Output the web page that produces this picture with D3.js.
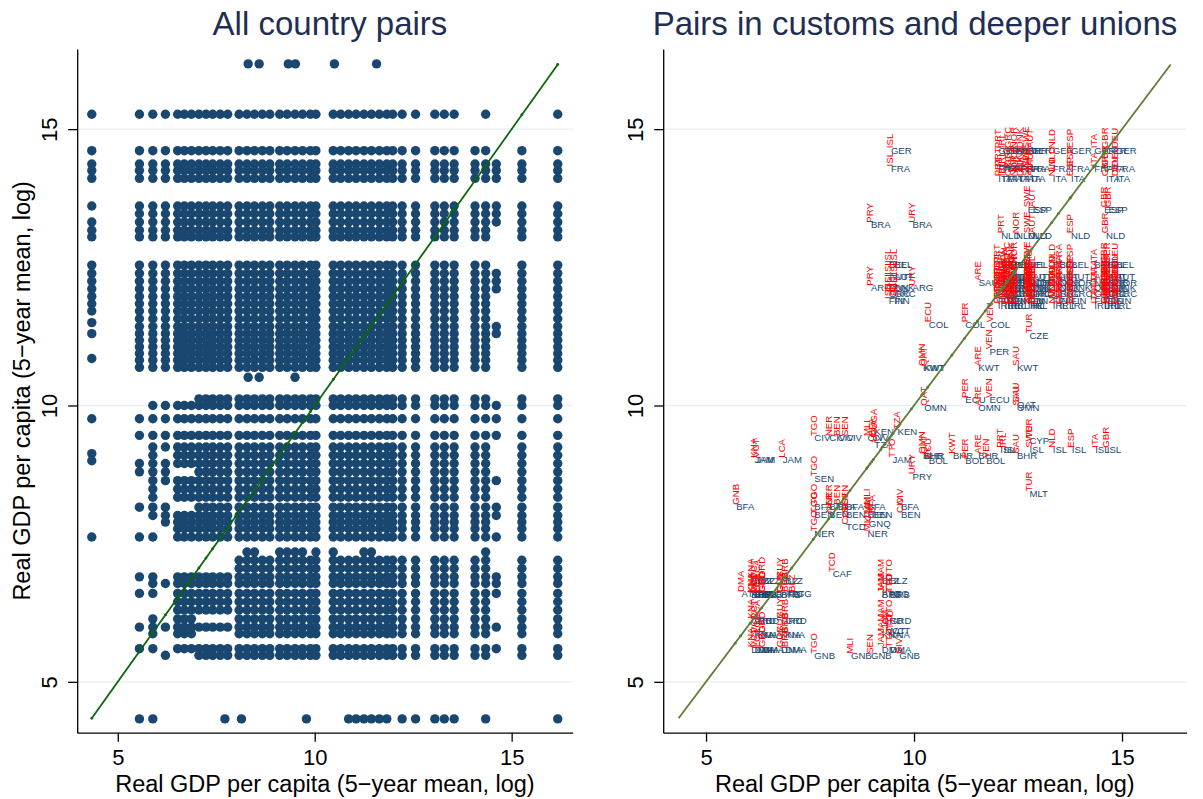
<!DOCTYPE html>
<html>
<head>
<meta charset="utf-8">
<title>Real GDP per capita pairs</title>
<script src="https://cdn.jsdelivr.net/npm/d3@7/dist/d3.min.js"></script>
<style>
  body { margin: 0; background: #fff; }
  svg text { font-family: "Liberation Sans", Arial, Helvetica, sans-serif; }
</style>
</head>
<body>
<div id="chart"></div>
<script>
// ---------- left panel: all country pairs ----------
// columns (x levels) that run through the whole upper block
var coreX = [5.55, 5.89, 6.21, 6.52, 6.69, 6.87, 7.06, 7.24, 7.41, 7.60, 7.79,
  8.08, 8.28, 8.47, 8.67, 8.86, 9.11, 9.30, 9.50, 9.69, 9.89, 10.03,
  10.47, 10.66, 10.86, 11.05, 11.25, 11.44, 11.64, 11.83, 11.98, 12.22, 12.56,
  13.05, 13.29, 13.54, 14.07, 14.34, 15.26, 16.17];
// rows above 10.5
var upperY = [14.61, 14.37, 14.25, 14.11, 13.61, 13.47, 13.32, 13.17, 13.05, 12.54,
  12.39, 12.25, 12.11, 11.97, 11.84, 11.71, 11.57, 11.43, 11.30, 11.18, 11.06,
  10.94, 10.82, 10.69];
// rows below 10.5 (full set)
var lowerY = [10.12, 10.00, 9.76, 9.46, 9.25, 9.10, 8.95, 8.80, 8.64, 8.49, 8.34,
  8.16, 8.01, 7.89, 7.77, 7.62, 7.20, 7.05, 6.90, 6.78, 6.60, 6.45, 6.30, 6.14,
  5.99, 5.87, 5.60, 5.48];
// thinner lower rows of the poorest columns
var low555 = [9.76, 9.46, 8.95, 8.80, 8.16, 7.62, 6.90, 6.60, 5.99, 5.60];
var low589 = [10.00, 9.76, 9.46, 9.25, 9.10, 8.95, 8.80, 8.64, 8.49, 8.34, 8.16, 8.01,
  7.62, 6.90, 6.78, 6.60, 6.14, 5.99, 5.87, 5.60];
var low621 = [10.00, 9.76, 9.46, 9.25, 8.95, 8.80, 8.64, 8.16, 8.01, 7.89, 6.78, 5.99, 5.48];
var low652 = [10.00, 9.76, 9.46, 9.25, 9.10, 8.95, 8.64, 8.49, 8.34, 8.01, 7.89, 7.77,
  7.62, 6.90, 6.78, 6.60, 6.45, 6.30, 6.14, 5.99, 5.87, 5.60];
var low706 = [10.12, 10.00, 9.76, 9.46, 9.25, 9.10, 8.95, 8.80, 8.64, 8.49, 8.34, 8.16,
  8.01, 7.89, 7.77, 7.62, 6.90, 6.78, 6.60, 6.45, 6.30, 5.99, 5.60, 5.48];
// partial rows and columns
var row1527X = [5.55, 5.89, 6.21, 6.52, 6.69, 6.87, 7.06, 7.24, 7.41, 7.60, 7.79,
  8.08, 8.28, 8.47, 8.67, 8.86, 9.11, 9.30, 9.50, 9.69, 9.89, 10.03,
  10.47, 10.66, 10.86, 11.05, 11.25, 11.44, 11.64, 11.83, 11.98, 12.22, 12.56,
  13.05, 13.29, 13.54, 14.34, 16.17];
var row1618X = [8.31, 8.59, 9.33, 9.51, 10.50, 11.57];
var row1051X = [8.31, 8.59, 9.50];
var row735X = [8.28, 8.47, 9.11, 9.30, 9.50, 9.69, 10.03, 10.47, 11.25, 11.44, 14.34];
var row433X = [5.55, 5.89, 7.72, 8.14, 9.79, 10.86, 11.05, 11.25, 11.44, 11.64, 11.83,
  12.22, 12.56, 13.05, 13.29, 13.54, 14.34, 16.17];
var col434Y = [15.27, 14.61, 14.37, 14.25, 14.11, 13.61, 13.32, 13.17, 13.05, 12.54,
  12.39, 12.25, 12.11, 11.97, 11.84, 11.71, 11.50, 11.30, 10.85, 9.76, 9.13, 9.00, 7.62];
var col1461Y = [14.37, 14.25, 14.11, 13.61, 13.47, 13.32, 12.39, 12.25, 12.11, 11.43,
  11.30, 10.00, 9.76, 9.46, 8.64, 8.16, 8.01, 7.62, 6.90, 6.78, 6.60, 5.99, 5.60];

// ---------- right panel: pairs in customs and deeper unions ----------
// [code, value]; red = x country, navy = y country
var euTopX = [["PRT", 12.00], ["IRL", 12.11], ["GRC", 12.24], ["NOR", 12.40], ["DNK", 12.53],
  ["SWE", 12.69], ["AUT", 12.79], ["NLD", 13.31], ["ESP", 13.75], ["ITA", 14.31],
  ["GBR", 14.59], ["DEU", 14.83]];
var euTopY = [["GER", 14.62], ["FRA", 14.29], ["ITA", 14.11]];
var euLowX = [["PRT", 11.99], ["IRL", 12.07], ["FIN", 12.15], ["GRC", 12.23], ["DNK", 12.31],
  ["NOR", 12.39], ["SWE", 12.71], ["AUT", 12.76], ["BEL", 12.83], ["NLD", 13.31],
  ["FRA", 13.47], ["ESP", 13.75], ["ITA", 14.31], ["GBR", 14.55], ["GER", 14.63], ["DEU", 14.83]];
var euLowY = [["BEL", 12.54], ["AUT", 12.34], ["NOR", 12.23], ["DNK", 12.14], ["GRC", 12.03],
  ["FIN", 11.90], ["IRL", 11.81]];
var islX = [["ISL", 9.37], ["ISL", 9.50]];
var islY = [["BEL", 12.54], ["AUT", 12.33], ["DNK", 12.13], ["GRC", 12.02], ["FIN", 11.89]];
var mercoX = [["PRY", 8.94], ["URY", 9.94]];
var mercoY = [["BRA", 13.27], ["ARG", 12.13]];
var waemuX = [["TGO", 7.58], ["NER", 7.94], ["BEN", 8.14], ["SEN", 8.34], ["MLI", 8.86], ["BFA", 8.98]];
var waemuY = [["CIV", 9.41], ["BFA", 8.17], ["BEN", 8.02]];
var caricomX = [["KNA", 6.06], ["VCT", 6.14], ["LCA", 6.22], ["GRD", 6.34], ["GUY", 6.78],
  ["BRB", 6.88], ["JAM", 9.20], ["TTO", 9.40]];
var caricomY = [["BLZ", 6.84], ["ATG", 6.59], ["BRB", 6.57], ["GRD", 6.11], ["KNA", 5.85], ["DMA", 5.59]];
// single pairs: [x code, x value, y code, y value]
var extraPairs = [
  ["ISL", 9.42, "GER", 14.62], ["ISL", 9.42, "FRA", 14.29],
  ["SWE", 12.71, "ESP", 13.55], ["AUT", 12.83, "ESP", 13.55], ["GBR", 14.55, "ESP", 13.55],
  ["GBR", 14.65, "ESP", 13.55], ["PRT", 12.07, "NLD", 13.08], ["NOR", 12.43, "NLD", 13.08],
  ["SWE", 12.71, "NLD", 13.08], ["AUT", 12.83, "NLD", 13.08], ["ESP", 13.75, "NLD", 13.08],
  ["GBR", 14.59, "NLD", 13.08],
  ["ARE", 11.53, "SAU", 12.22],
  ["ECU", 10.33, "COL", 11.47], ["PER", 11.21, "COL", 11.47], ["VEN", 11.81, "COL", 11.47],
  ["VEN", 11.79, "PER", 10.98], ["PER", 11.21, "ECU", 10.10], ["VEN", 11.79, "ECU", 10.10],
  ["ECU", 10.33, "BOL", 9.01], ["PER", 11.21, "BOL", 9.01], ["VEN", 11.71, "BOL", 9.01],
  ["TUR", 12.75, "CZE", 11.27], ["TUR", 12.75, "CYP", 9.37], ["TUR", 12.75, "MLT", 8.41],
  ["OMN", 10.19, "KWT", 10.68], ["QAT", 10.22, "KWT", 10.68], ["ARE", 11.52, "KWT", 10.68],
  ["SAU", 12.45, "KWT", 10.68], ["SAU", 12.45, "QAT", 10.02], ["QAT", 10.22, "OMN", 9.96],
  ["ARE", 11.52, "OMN", 9.96], ["SAU", 12.45, "OMN", 9.96], ["OMN", 10.19, "BHR", 9.09],
  ["QAT", 10.22, "BHR", 9.09], ["KWT", 10.91, "BHR", 9.09], ["ARE", 11.52, "BHR", 9.09],
  ["SAU", 12.45, "BHR", 9.09],
  ["PRT", 12.05, "ISL", 9.20], ["IRL", 12.14, "ISL", 9.20], ["SWE", 12.75, "ISL", 9.20],
  ["NLD", 13.31, "ISL", 9.20], ["ESP", 13.77, "ISL", 9.20], ["ITA", 14.33, "ISL", 9.20],
  ["GBR", 14.61, "ISL", 9.20],
  ["URY", 9.94, "PRY", 8.72],
  ["UGA", 9.02, "KEN", 9.53], ["TZA", 9.58, "KEN", 9.53], ["UGA", 9.02, "TZA", 9.30],
  ["KNA", 6.14, "JAM", 9.02], ["VCT", 6.18, "JAM", 9.02], ["LCA", 6.82, "JAM", 9.02],
  ["TTO", 9.46, "JAM", 9.02],
  ["GNB", 5.70, "BFA", 8.17], ["CIV", 9.66, "BFA", 8.17], ["CIV", 9.66, "BEN", 8.02],
  ["TGO", 7.58, "SEN", 8.68], ["TGO", 7.58, "NER", 7.69], ["MLI", 8.86, "NER", 7.69],
  ["CMR", 8.89, "GNQ", 7.87], ["COG", 8.34, "TCD", 7.81], ["TCD", 8.02, "CAF", 6.95],
  ["TGO", 7.58, "GNB", 5.47], ["MLI", 8.46, "GNB", 5.47], ["SEN", 8.94, "GNB", 5.47],
  ["CIV", 9.62, "GNB", 5.47],
  ["DMA", 5.83, "ATG", 6.59], ["BLZ", 7.06, "ATG", 6.59], ["JAM", 9.30, "VCT", 5.92],
  ["TTO", 9.42, "VCT", 5.92]
];

var xTicks = [5, 10, 15],
  yTicks = [5, 10, 15],
  lineEnds = [4.34, 16.17];

// ---------- layout ----------
var width = 1203, height = 799;
var navy = "#1a476f", red = "#ff0000", gridCol = "#e8eff1", titleCol = "#1f2e52";

var svg = d3.select("#chart").append("svg")
  .attr("width", width)
  .attr("height", height)
  .style("background", "#fff");

var y = d3.scaleLinear().domain([4.08, 16.45]).range([732.7, 49]);
var xLeft = d3.scaleLinear().domain([3.97, 16.55]).range([77.2, 572.7]);
var xRight = d3.scaleLinear().domain([3.97, 16.55]).range([663.2, 1186.5]);

// build the left dots
function lowRows(x) {
  if (x === 5.55) return low555;
  if (x === 5.89) return low589;
  if (x === 6.21) return low621;
  if (x >= 6.5 && x < 7) return low652;
  if (x >= 7 && x < 8) return low706;
  return lowerY;
}
var leftDots = [];
coreX.forEach(function(x) {
  upperY.concat(lowRows(x)).forEach(function(v) { leftDots.push([x, v]); });
});
row1527X.forEach(function(x) { leftDots.push([x, 15.27]); });
row1618X.forEach(function(x) { leftDots.push([x, 16.18]); });
row1051X.forEach(function(x) { leftDots.push([x, 10.51]); });
row735X.forEach(function(x) { leftDots.push([x, 7.35]); });
row433X.forEach(function(x) { leftDots.push([x, 4.33]); });
col434Y.forEach(function(v) { leftDots.push([4.34, v]); });
col1461Y.forEach(function(v) { leftDots.push([14.61, v]); });

// build the right pairs
var pairs = [];
function addBlock(xs, ys) {
  xs.forEach(function(a) {
    ys.forEach(function(b) {
      if (a[0] !== b[0]) pairs.push([a[0], a[1], b[0], b[1]]);
    });
  });
}
addBlock(euTopX, euTopY);
addBlock(euLowX, euLowY);
addBlock(islX, islY);
addBlock(mercoX, mercoY);
addBlock(waemuX, waemuY);
addBlock(caricomX, caricomY);
pairs = pairs.concat(extraPairs);

// grid, axes and titles for one panel
function drawFrame(x, title, titleX, yTitle) {
  var g = svg.append("g");
  g.selectAll("line.grid")
    .data(yTicks).enter()
    .append("line")
    .attr("class", "grid")
    .attr("x1", x.range()[0]).attr("x2", x.range()[1])
    .attr("y1", function(d) { return y(d); })
    .attr("y2", function(d) { return y(d); })
    .attr("stroke", gridCol)
    .attr("stroke-width", 1.3);

  var xa = g.append("g")
    .attr("transform", "translate(0," + y.range()[0] + ")")
    .call(d3.axisBottom(x).tickValues(xTicks).tickSize(9).tickSizeOuter(0).tickFormat(d3.format("d")));
  xa.selectAll("text")
    .attr("y", 32).attr("dy", 0)
    .attr("font-size", 22).attr("fill", "#000");

  var ya = g.append("g")
    .attr("transform", "translate(" + x.range()[0] + ",0)")
    .call(d3.axisLeft(y).tickValues(yTicks).tickSize(9).tickSizeOuter(0).tickFormat(d3.format("d")));
  ya.selectAll("text")
    .attr("x", 0).attr("y", -20).attr("dy", 0)
    .attr("text-anchor", "middle")
    .attr("transform", "rotate(-90)")
    .attr("font-size", 22).attr("fill", "#000");

  g.selectAll(".domain, .tick line").attr("stroke", "#000").attr("stroke-width", 1.3);

  svg.append("text")
    .attr("x", titleX).attr("y", 35)
    .attr("text-anchor", "middle")
    .attr("font-size", 33)
    .attr("fill", titleCol)
    .text(title);

  svg.append("text")
    .attr("x", (x.range()[0] + x.range()[1]) / 2).attr("y", 792)
    .attr("text-anchor", "middle")
    .attr("font-size", 23.5)
    .text("Real GDP per capita (5\u2212year mean, log)");

  if (yTitle) {
    svg.append("text")
      .attr("transform", "translate(30," + ((y.range()[0] + y.range()[1]) / 2) + ") rotate(-90)")
      .attr("text-anchor", "middle")
      .attr("font-size", 23.5)
      .text("Real GDP per capita (5\u2212year mean, log)");
  }
}

// diagonal 45-degree line with its small markers
function drawDiagonal(x, pts, colour) {
  var line = d3.line()
    .x(function(d) { return x(d); })
    .y(function(d) { return y(d); });
  svg.append("path")
    .datum(lineEnds)
    .attr("d", line)
    .attr("fill", "none")
    .attr("stroke", colour)
    .attr("stroke-width", 1.8);
  svg.append("g").selectAll("circle")
    .data(pts).enter()
    .append("circle")
    .attr("cx", function(d) { return x(d); })
    .attr("cy", function(d) { return y(d); })
    .attr("r", 1.4)
    .attr("fill", colour);
}

// ---------- left panel ----------
drawFrame(xLeft, "All country pairs", 330, true);

svg.append("g").selectAll("circle")
  .data(leftDots).enter()
  .append("circle")
  .attr("cx", function(d) { return xLeft(d[0]); })
  .attr("cy", function(d) { return y(d[1]); })
  .attr("r", 4.7)
  .attr("fill", navy);

drawDiagonal(xLeft, [4.34].concat(coreX), "#0b650b");

// ---------- right panel ----------
drawFrame(xRight, "Pairs in customs and deeper unions", 915, false);

var labelSize = 9.6;

// partner (y) country, horizontal
svg.append("g").selectAll("text")
  .data(pairs).enter()
  .append("text")
  .attr("x", function(d) { return xRight(d[1]) + 1; })
  .attr("y", function(d) { return y(d[3]); })
  .attr("dy", "0.35em")
  .attr("font-size", labelSize)
  .attr("fill", navy)
  .text(function(d) { return d[2]; });

// reporter (x) country, vertical
svg.append("g").selectAll("text")
  .data(pairs).enter()
  .append("text")
  .attr("transform", function(d) {
    return "translate(" + (xRight(d[1]) + 3.4) + "," + (y(d[3]) - 2) + ") rotate(-90)";
  })
  .attr("font-size", labelSize)
  .attr("fill", red)
  .text(function(d) { return d[0]; });

var rightPts = Array.from(new Set(pairs.map(function(d) { return d[1]; }))).sort(d3.ascending);
drawDiagonal(xRight, rightPts, "#5e7d34");
</script>
</body>
</html>
